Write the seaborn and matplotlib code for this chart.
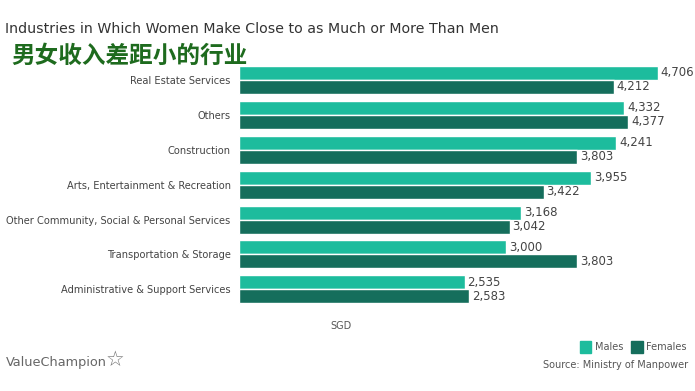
import matplotlib
matplotlib.use("Agg")
import matplotlib.pyplot as plt
import seaborn as sns
import pandas as pd
from matplotlib.patches import Rectangle

categories = ["Real Estate Services", "Others", "Construction",
              "Arts, Entertainment & Recreation",
              "Other Community, Social & Personal Services",
              "Transportation & Storage", "Administrative & Support Services"]
males = [4706, 4332, 4241, 3955, 3168, 3000, 2535]
females = [4212, 4377, 3803, 3422, 3042, 3803, 2583]
series = ["Males", "Females"]
colors = {"Males": "#1dbc9d", "Females": "#156e5c"}

df = pd.DataFrame({
    "Industry": categories * 2,
    "Value": males + females,
    "Sex": ["Males"] * len(categories) + ["Females"] * len(categories),
})

sns.set_theme(style="white")
plt.rcParams['font.family'] = ['DejaVu Sans', 'Noto Sans CJK SC']

fig = plt.figure(figsize=(6.95, 3.91), dpi=100)
ax = fig.add_axes([0.344, 0.215, 0.64, 0.626])
sns.barplot(data=df, y="Industry", x="Value", hue="Sex", order=categories,
            hue_order=series, palette=colors, orient="h", ax=ax,
            width=0.8, legend=False, saturation=1)

for cont in ax.containers:
    ax.bar_label(cont, labels=[f"{v:,.0f}" for v in cont.datavalues],
                 padding=2, fontsize=8.5, color="#444444")

ax.set_xlim(0, 5000)
ax.set_xlabel("")
ax.set_ylabel("")
ax.set_xticks([])
ax.tick_params(axis="y", length=0, labelsize=7.1, labelcolor="#444444", pad=6)
for s in ax.spines.values():
    s.set_visible(False)

fig.text(0.007, 0.925, "Industries in Which Women Make Close to as Much or More Than Men",
         fontsize=10.2, color="#333333", va="center", ha="left", fontweight="medium")
fig.text(0.016, 0.858, "男女收入差距小的行业", family=['Noto Sans CJK SC'],
         fontsize=17, fontweight="bold", color="#1e6b1e", va="center", ha="left")
fig.text(0.49, 0.166, "SGD", fontsize=7, color="#555555", va="center", ha="center")

# legend
fig.patches.append(Rectangle((0.834, 0.098), 0.017, 0.03, transform=fig.transFigure,
                             color=colors["Males"], figure=fig))
fig.text(0.856, 0.113, "Males", fontsize=7, color="#555555", va="center")
fig.patches.append(Rectangle((0.908, 0.098), 0.017, 0.03, transform=fig.transFigure,
                             color=colors["Females"], figure=fig))
fig.text(0.930, 0.113, "Females", fontsize=7, color="#555555", va="center")
fig.text(0.99, 0.067, "Source: Ministry of Manpower", fontsize=7, color="#555555",
         va="center", ha="right")
fig.text(0.008, 0.072, "ValueChampion", fontsize=9.3, color="#666666", va="center")
fig.text(0.152, 0.078, "☆", fontsize=15, color="#777777", va="center")

fig.savefig("out.png", dpi=100, facecolor="white")
